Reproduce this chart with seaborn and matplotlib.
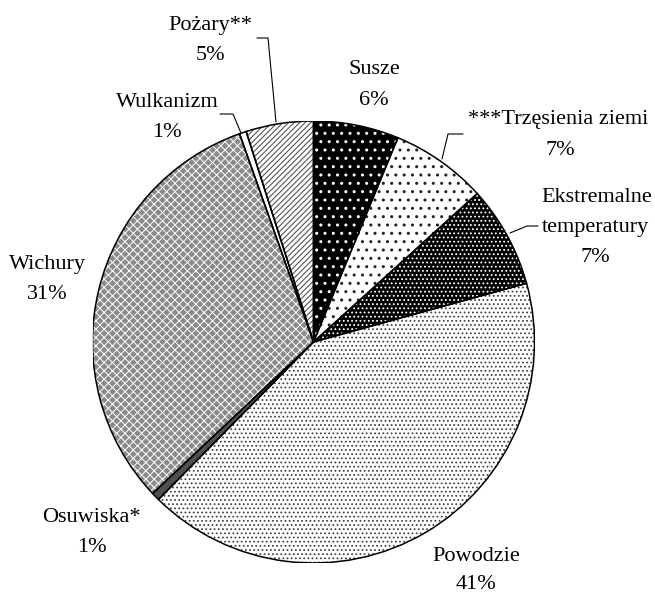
import matplotlib
matplotlib.use("Agg")
import matplotlib.pyplot as plt
from matplotlib.patches import Wedge
import seaborn as sns

# ---- data ----
categories = ["Susze", "***Trzęsienia ziemi", "Ekstremalne\ntemperatury", "Powodzie",
              "Osuwiska*", "Wichury", "Wulkanizm", "Pożary**"]
values = [6.2, 7.0, 7.4, 41.4, 0.6, 31.4, 0.5, 4.9]

# ---- style ----
sns.set_theme(style="white")
plt.rcParams['font.family'] = ['Liberation Serif', 'DejaVu Serif']

styles = [
    # facecolor, hatch, hatchcolor, hatch linewidth
    ("black", "..", "white", 1.0),
    ("white", "..", "#222222", 1.0),
    ("black", "....", "white", 0.8),
    ("white", "....", "#444444", 0.8),
    ("#505050", None, None, 1.0),
    ("#8a8a8a", "xxxx", "white", 0.7),
    ("white", None, None, 1.0),
    ("white", "//////", "#555555", 0.8),
]

W, H = 655, 593
cx, cy, r = 313.5, 342.0, 221.0
fig = plt.figure(figsize=(W / 100, H / 100), dpi=100)
ax = fig.add_axes([(cx - r) / W, (H - cy - r) / H, 2 * r / W, 2 * r / H])

wedges, _ = ax.pie(values, startangle=90, counterclock=False, radius=1.0,
                   colors=[s[0] for s in styles],
                   wedgeprops=dict(edgecolor="none", linewidth=0))

for w, (fc, h, hc, hlw) in zip(wedges, styles):
    w.set_zorder(1)
    if h:
        with plt.rc_context({"hatch.linewidth": hlw}):
            ov = Wedge(w.center, w.r, w.theta1, w.theta2, facecolor="none",
                       edgecolor=hc, hatch=h, linewidth=0, zorder=2)
        ax.add_patch(ov)
    ol = Wedge(w.center, w.r, w.theta1, w.theta2, facecolor="none",
               edgecolor="black", linewidth=1.1, zorder=3)
    ax.add_patch(ol)

ax.set_xlim(-1, 1)
ax.set_ylim(-1, 1)
ax.set_aspect("equal")
ax.axis("off")


def p2d(px, py):
    return (px - cx) / r, (cy - py) / r


# label layout (pixel positions of line baselines)
label_pos = {
    "Susze": [(374, 74), (374, 105)],
    "***Trzęsienia ziemi": [(558, 124), (560, 155)],
    "Ekstremalne\ntemperatury": [(597, 202), (595, 232), (595, 262)],
    "Powodzie": [(476, 561), (476, 589)],
    "Osuwiska*": [(91, 522), (92, 552)],
    "Wichury": [(47, 269), (47, 299)],
    "Wulkanizm": [(167, 107), (167, 137)],
    "Pożary**": [(210, 30), (210, 60)],
}
leaders = {
    "Pożary**": [(257, 38), (268, 38), (276, 122)],
    "Wulkanizm": [(220, 114), (233, 114), (241, 133)],
    "***Trzęsienia ziemi": [(463, 134), (448, 134), (442, 159)],
    "Ekstremalne\ntemperatury": [(538, 226), (527, 226), (510, 233)],
}

for cat, v in zip(categories, values):
    lines = cat.split("\n") + [f"{int(v + 0.5)}%"]
    for txt, (px, py) in zip(lines, label_pos[cat]):
        x, y = p2d(px, py)
        ax.text(x, y, txt, ha="center", va="baseline", fontsize=16,
                color="black", clip_on=False)
    if cat in leaders:
        pts = [p2d(*p) for p in leaders[cat]]
        ax.plot([p[0] for p in pts], [p[1] for p in pts], color="black",
                linewidth=0.8, clip_on=False, zorder=4)

fig.savefig("out.png", dpi=100, facecolor="white")
